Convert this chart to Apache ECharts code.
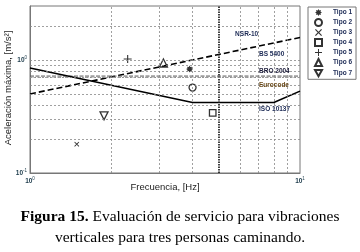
<!DOCTYPE html>
<html><head><meta charset="utf-8">
<script src="https://cdn.jsdelivr.net/npm/echarts@6/dist/echarts.min.js"></script>
<style>html,body{margin:0;padding:0;background:#fff}#c{width:360px;height:252px}</style>
</head><body><div id="c"></div>
<script>
// Data
const tipoNames = ['Tipo 1','Tipo 2','Tipo 3','Tipo 4','Tipo 5','Tipo 6','Tipo 7'];
const tipoFreq  = [3.9, 4.0, 1.49, 4.75, 2.3, 3.12, 1.88];
const tipoAcc   = [0.83, 0.57, 0.18, 0.34, 1.02, 0.94, 0.32];
const bsFreq  = [1, 10];
const bsAcc   = [0.5, 1.58];
const isoFreq = [1, 4, 8, 10];
const isoAcc  = [0.85, 0.42, 0.42, 0.53];
const broAcc  = 0.72;
const euroAcc = 0.70;
const xTicks = [1, 10];
const yTicks = [0.1, 1];
const xGrid = [2,3,4,6,7,8,9];
const yGrid = [0.2,0.3,0.4,0.5,0.6,0.7,0.8,0.9,2];

const sym = {
  'Tipo 1': 'path://M5,0L6.2,2.1L8.5,1.5L7.9,3.8L10,5L7.9,6.2L8.5,8.5L6.2,7.9L5,10L3.8,7.9L1.5,8.5L2.1,6.2L0,5L2.1,3.8L1.5,1.5L3.8,2.1Z',
  'Tipo 2': 'circle',
  'Tipo 3': 'path://M1.2,0L5,3.8L8.8,0L10,1.2L6.2,5L10,8.8L8.8,10L5,6.2L1.2,10L0,8.8L3.8,5L0,1.2Z',
  'Tipo 4': 'rect',
  'Tipo 5': 'path://M4.3,0H5.7V4.3H10V5.7H5.7V10H4.3V5.7H0V4.3H4.3Z',
  'Tipo 6': 'triangle',
  'Tipo 7': 'path://M0,0L10,0L5,9Z'
};
const hollow = {'Tipo 2':1,'Tipo 4':1,'Tipo 6':1,'Tipo 7':1};
const sz = {'Tipo 1':7,'Tipo 2':7,'Tipo 3':5,'Tipo 4':6.5,'Tipo 5':8,'Tipo 6':8,'Tipo 7':8};

const sup = v => {
  const e = Math.round(Math.log10(v));
  return '{b|10}{s|' + e + '}';
};
const tickRich = { b:{fontSize:6.5,color:'#1b3a4a',fontFamily:'Liberation Sans',fontWeight:'bold'}, s:{fontSize:4.5,color:'#1b3a4a',verticalAlign:'top',padding:[0,0,5,0],fontFamily:'Liberation Sans'} };

const series = [];
// gridlines
series.push({
  type:'line', data:[], silent:true,
  markLine:{ symbol:'none', silent:true, label:{show:false},
    data: xGrid.map(v=>({xAxis:v, lineStyle:{color:'#888', width:0.8, type:[2,2]}}))
      .concat([{xAxis:5, lineStyle:{color:'#111', width:1.6, type:[1.5,1]}}])
      .concat(yGrid.concat([1]).map(v=>({yAxis:v, lineStyle:{color:'#888', width:0.8, type:[2,2]}})))
  }
});
const lbl = (name, f, a, color) => ({
  coord:[f,a], symbol:'circle', symbolSize:0,
  label:{show:true, formatter:name, position:'right', distance:0, fontSize:6.5, fontWeight:'bold', fontFamily:'Liberation Sans', color:color}
});
series.push({
  name:'BS 5400', type:'line', data: bsFreq.map((f,i)=>[f,bsAcc[i]]), symbol:'none', silent:true,
  lineStyle:{color:'#000', width:1.6, type:[6,3]},
  markPoint:{ silent:true, data:[ lbl('NSR-10', 5.75, 1.68, '#1c2a55'), lbl('BS 5400', 7.05, 1.12, '#1c2a55') ] }
});
series.push({
  name:'BRO 2004', type:'line', data: [[1,broAcc],[10,broAcc]], symbol:'none', silent:true,
  lineStyle:{color:'#555', width:1, type:[4,1.5]},
  markPoint:{ silent:true, data:[ lbl('BRO 2004', 7.05, 0.80, '#1c1c3a') ] }
});
series.push({
  name:'Eurocode', type:'line', data: [[1,euroAcc],[10,euroAcc]], symbol:'none', silent:true,
  lineStyle:{color:'#999', width:1, type:[1,1.5]},
  markPoint:{ silent:true, data:[ lbl('Eurocode', 7.05, 0.60, '#6a4a1a') ] }
});
series.push({
  name:'ISO 10137', type:'line', data: isoFreq.map((f,i)=>[f,isoAcc[i]]), symbol:'none', silent:true,
  lineStyle:{color:'#000', width:1.6},
  markPoint:{ silent:true, data:[ lbl('ISO 10137', 7.05, 0.37, '#1c2a55') ] }
});
tipoNames.forEach((n,i)=>{
  series.push({
    name:n, type:'scatter', data:[[tipoFreq[i], tipoAcc[i]]],
    symbol: sym[n], symbolSize: sz[n], silent:true,
    itemStyle: hollow[n] ? {color:'#fff', borderColor:'#000', borderWidth:1.3} : {color:'#000'}
  });
});

const chart = echarts.init(document.getElementById('c'), null, {renderer:'canvas'});
chart.setOption({
  animation:false,
  backgroundColor:'#fff',
  grid:{left:30, right:60, top:6, bottom:79, show:true, borderColor:'#777', borderWidth:1, backgroundColor:'transparent', containLabel:false, outerBoundsMode:'none'},
  legend:{
    orient:'vertical', left:308, top:7, data: tipoNames.map(n=>({name:n, icon:sym[n]})),
    itemWidth:7, itemHeight:7, itemGap:2, padding:[2,4,2,6],
    borderColor:'#777', borderWidth:1,
    textStyle:{fontSize:6.5, fontWeight:'bold', color:'#1c2a55', fontFamily:'Liberation Sans', padding:[0,0,0,6]},
    selectedMode:false
  },
  xAxis:{
    type:'log', logBase:10, min:1, max:10,
    axisLine:{lineStyle:{color:'#777'}}, axisTick:{show:false}, splitLine:{show:false},
    axisLabel:{customValues:xTicks, formatter:sup, rich:tickRich, margin:3, fontSize:6.5}
  },
  yAxis:{
    type:'log', logBase:10, min:0.1, max:3,
    axisLine:{lineStyle:{color:'#777'}}, axisTick:{show:false}, splitLine:{show:false},
    axisLabel:{customValues:yTicks, formatter:sup, rich:tickRich, margin:3, fontSize:6.5}
  },
  graphic:[
    {type:'text', x:165, y:187, style:{text:'Frecuencia, [Hz]', fontSize:9.5, fill:'#222', fontFamily:'Liberation Sans', align:'center', verticalAlign:'middle'}},
    {type:'text', x:8, y:88, rotation:Math.PI/2, style:{text:'Aceleración máxima, [m/s²]', fontSize:9.5, fill:'#222', fontFamily:'Liberation Sans', align:'center', verticalAlign:'middle'}},
    {type:'text', left:'center', top:209, style:{rich:{
        a:{fontFamily:'Liberation Serif', fontSize:15.5, fontWeight:'bold', fill:'#000'},
        n:{fontFamily:'Liberation Serif', fontSize:15.5, fill:'#000'}},
      text:'{a|Figura 15.}{n| Evaluación de servicio para vibraciones}'}},
    {type:'text', left:'center', top:230, style:{text:'verticales para tres personas caminando.', fontFamily:'Liberation Serif', fontSize:15.5, fill:'#000'}}
  ],
  series:series
});
</script></body></html>
